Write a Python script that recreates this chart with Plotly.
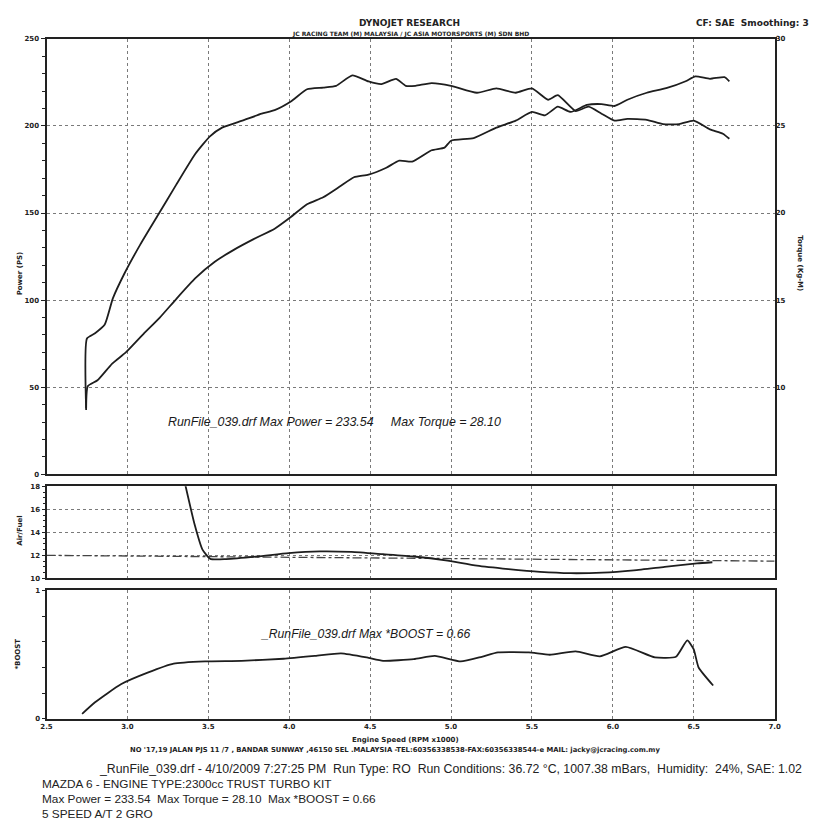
import plotly.graph_objects as go

# ---------------- data ----------------
torque_rpm = [2.745, 2.75, 2.80, 2.86, 2.91, 2.98, 3.08, 3.19, 3.30, 3.42, 3.51, 3.585, 3.71, 3.83, 3.91,
              4.01, 4.11, 4.21, 4.29, 4.39, 4.49, 4.57, 4.66, 4.72, 4.78, 4.88, 5.00, 5.16, 5.28, 5.40,
              5.50, 5.60, 5.66, 5.77, 5.85, 5.93, 6.01, 6.09, 6.21, 6.31, 6.41, 6.50, 6.60, 6.68, 6.72]
torque_kgm = [8.7, 12.8, 13.1, 13.6, 15.1, 16.5, 18.2, 19.9, 21.6, 23.4, 24.4, 24.9, 25.3, 25.7, 25.9,
              26.4, 27.1, 27.2, 27.3, 27.9, 27.55, 27.4, 27.7, 27.3, 27.3, 27.45, 27.3, 26.9, 27.15, 26.9,
              27.15, 26.5, 26.76, 25.85, 26.1, 25.7, 25.3, 25.4, 25.35, 25.1, 25.1, 25.3, 24.8, 24.55, 24.26]

power_rpm = [2.745, 2.755, 2.815, 2.906, 2.99, 3.10, 3.20, 3.30, 3.42, 3.54, 3.66, 3.78, 3.91, 4.01,
             4.11, 4.21, 4.31, 4.40, 4.49, 4.60, 4.68, 4.76, 4.88, 4.96, 5.00, 5.14, 5.28, 5.40, 5.50,
             5.58, 5.66, 5.74, 5.84, 5.93, 6.01, 6.09, 6.21, 6.33, 6.45, 6.51, 6.60, 6.69, 6.72]
power_ps = [38, 50.6, 54, 63.6, 70, 80.7, 90, 100.5, 112.6, 122, 129, 135, 141, 147.7,
            155, 159, 165, 170.5, 172, 176, 180, 179.5, 186, 187.5, 191.5, 193, 199, 203, 208,
            206, 211, 208, 212, 212.5, 211.4, 215, 219, 221.6, 225.6, 228.4, 227, 228, 225.6]

afr_rpm = [3.35, 3.415, 3.464, 3.512, 3.609, 3.803, 3.997, 4.19, 4.385, 4.58, 4.77, 4.967, 5.16,
           5.355, 5.55, 5.74, 5.936, 6.13, 6.32, 6.52, 6.615]
afr_val = [18.6, 14.7, 12.5, 11.7, 11.68, 11.9, 12.2, 12.35, 12.3, 12.1, 11.9, 11.57, 11.1,
           10.8, 10.56, 10.45, 10.5, 10.7, 11.0, 11.3, 11.4]

afr_ref_rpm = [2.5, 7.0]
afr_ref_val = [12.0, 11.5]

boost_rpm = [2.72, 2.80, 2.96, 3.125, 3.286, 3.48, 3.706, 3.965, 4.16, 4.32, 4.48, 4.58, 4.77, 4.90,
             5.06, 5.19, 5.29, 5.48, 5.61, 5.77, 5.92, 6.08, 6.26, 6.39, 6.46, 6.50, 6.53, 6.62]
boost_val = [0.04, 0.13, 0.27, 0.36, 0.43, 0.447, 0.452, 0.468, 0.49, 0.51, 0.478, 0.452, 0.465, 0.49,
             0.447, 0.483, 0.517, 0.517, 0.499, 0.525, 0.486, 0.56, 0.478, 0.483, 0.61, 0.54, 0.40, 0.26]

rpm_ticks = [2.5, 3.0, 3.5, 4.0, 4.5, 5.0, 5.5, 6.0, 6.5, 7.0]
power_ticks = [0, 50, 100, 150, 200, 250]
torque_ticks = [10, 15, 20, 25, 30]
afr_ticks = [10, 12, 14, 16, 18]
boost_ticks = [0, 1]

# ---------------- figure ----------------
OFF = 8                      # page body margin
W, H = 832 - 2 * OFF, 831 - 2 * OFF
LINE = "#1e1e1e"
GRID = "#7a7a7a"
TICKFONT = dict(family="DejaVu Sans", size=7, color="#222", weight="bold")

def px(x):
    return (x - OFF) / W

def py(y):
    return 1 - (y - OFF) / H

xd = [px(41), px(780)]

CURVE = dict(color=LINE, width=1.8, shape="spline", smoothing=0.5)

fig = go.Figure()
fig.add_trace(go.Scatter(x=torque_rpm, y=torque_kgm, xaxis="x", yaxis="y2", mode="lines",
                         line=CURVE, showlegend=False))
fig.add_trace(go.Scatter(x=power_rpm, y=power_ps, xaxis="x", yaxis="y", mode="lines",
                         line=CURVE, showlegend=False))
fig.add_trace(go.Scatter(x=afr_ref_rpm, y=afr_ref_val, xaxis="x2", yaxis="y3", mode="lines",
                         line=dict(color="#444", width=1.3, dash="dashdot"), showlegend=False))
fig.add_trace(go.Scatter(x=afr_rpm, y=afr_val, xaxis="x2", yaxis="y3", mode="lines",
                         line=CURVE, showlegend=False))
fig.add_trace(go.Scatter(x=boost_rpm, y=boost_val, xaxis="x3", yaxis="y4", mode="lines",
                         line=CURVE, showlegend=False))

xcommon = dict(range=[2.5, 7.0], showline=True, mirror=True, linecolor="#222", linewidth=2,
               showgrid=True, gridcolor=GRID, griddash="dot", gridwidth=1,
               tickvals=rpm_ticks, zeroline=False, fixedrange=True)

fig.update_layout(
    width=W, height=H, paper_bgcolor="white", plot_bgcolor="white",
    margin=dict(l=0, r=0, t=0, b=0), hovermode=False,
    xaxis=dict(domain=xd, anchor="y", showticklabels=False, **xcommon),
    xaxis2=dict(domain=xd, anchor="y3", showticklabels=False, **xcommon),
    xaxis3=dict(domain=xd, anchor="y4", showticklabels=True, ticktext=[f"{v:.1f}" for v in rpm_ticks],
                tickfont=TICKFONT, ticks="", **xcommon),
    yaxis=dict(domain=[py(475), py(35)], anchor="x", range=[0, 250], tickvals=power_ticks,
               showline=True, mirror=True, linecolor="#222", linewidth=2,
               showgrid=True, gridcolor=GRID, griddash="dot", gridwidth=1, zeroline=False,
               ticks="outside", ticklen=4, tickcolor="#222", tickfont=TICKFONT,
               minor=dict(dtick=10, ticks="outside", ticklen=3, tickcolor="#222", showgrid=False),
               fixedrange=True),
    yaxis2=dict(overlaying="y", side="right", anchor="x", range=[5, 30], tickvals=torque_ticks,
                showgrid=False, zeroline=False, showline=False, ticks="", tickfont=TICKFONT,
                fixedrange=True),
    yaxis3=dict(domain=[py(580), py(487)], anchor="x2", range=[10, 18], tickvals=afr_ticks,
                showline=True, mirror=True, linecolor="#222", linewidth=2,
                showgrid=True, gridcolor=GRID, griddash="dot", gridwidth=1, zeroline=False,
                ticks="outside", ticklen=3, tickcolor="#222", tickfont=TICKFONT,
                minor=dict(dtick=0.5, ticks="outside", ticklen=2, tickcolor="#222", showgrid=False),
                fixedrange=True),
    yaxis4=dict(domain=[py(722), py(592)], anchor="x3", range=[0, 1], tickvals=boost_ticks,
                showline=True, mirror=True, linecolor="#222", linewidth=2,
                showgrid=False, zeroline=False,
                ticks="outside", ticklen=3, tickcolor="#222", tickfont=TICKFONT,
                minor=dict(dtick=0.2, ticks="outside", ticklen=3, tickcolor="#222", showgrid=False),
                fixedrange=True),
)

def note(text, x, y, size=8, family="DejaVu Sans", weight="bold", xanchor="center",
         angle=0, italic=False, color="#222"):
    fig.add_annotation(text=text, x=px(x), y=py(y), xref="paper", yref="paper",
                       xanchor=xanchor, yanchor="middle", showarrow=False, textangle=angle,
                       font=dict(size=size, family=family, weight=weight, color=color,
                                 style="italic" if italic else "normal"))

note("DYNOJET RESEARCH", 409, 19, size=9)
note("JC RACING TEAM (M) MALAYSIA / JC ASIA MOTORSPORTS (M) SDN BHD", 410, 30, size=6)
note("CF: SAE  Smoothing: 3", 758, 19, size=9)

note("Power (PS)", 14, 272, size=7, angle=-90)
note("Torque (Kg-M)", 806, 262, size=7, angle=90)
note("Air/Fuel", 14, 532, size=7, angle=-90)
note("*BOOST", 12, 656, size=7, angle=-90)

note("RunFile_039.drf Max Power = 233.54     Max Torque = 28.10", 162, 422, size=12.4,
     family="Liberation Sans", weight="normal", xanchor="left", italic=True, color="#1a1a1a")
note("_RunFile_039.drf Max *BOOST = 0.66", 257, 636, size=12.2,
     family="Liberation Sans", weight="normal", xanchor="left", italic=True, color="#1a1a1a")

note("Engine Speed (RPM x1000)", 405, 743, size=7)
note("NO '17,19 JALAN PJS 11 /7 , BANDAR SUNWAY ,46150 SEL .MALAYSIA -TEL:60356338538-FAX:60356338544-e MAIL: jacky@jcracing.com.my",
     124, 753, size=6.8, xanchor="left")

BOT = "Liberation Sans"
note("_RunFile_039.drf - 4/10/2009 7:27:25 PM  Run Type: RO  Run Conditions: 36.72 °C, 1007.38 mBars,  Humidity:  24%, SAE: 1.02",
     92, 772, size=12.3, family=BOT, weight="normal", xanchor="left")
note("MAZDA 6 - ENGINE TYPE:2300cc TRUST TURBO KIT", 34, 788, size=11.8, family=BOT, weight="normal", xanchor="left")
note("Max Power = 233.54  Max Torque = 28.10  Max *BOOST = 0.66", 34, 803, size=11.8, family=BOT, weight="normal", xanchor="left")
note("5 SPEED A/T 2 GRO", 34, 818, size=11.8, family=BOT, weight="normal", xanchor="left")

fig.write_html("out.html", config={"displayModeBar": False})
